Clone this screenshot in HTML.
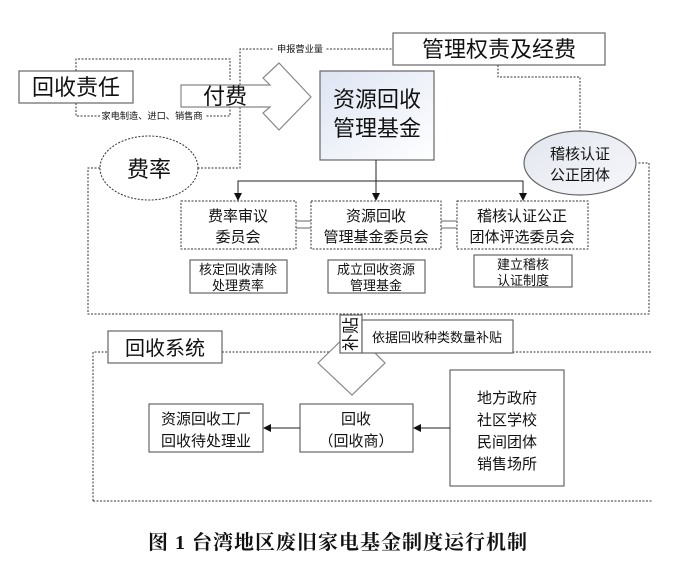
<!DOCTYPE html>
<html><head><meta charset="utf-8"><style>
html,body{margin:0;padding:0;background:#fff}
svg{display:block}
text{font-family:"Liberation Sans","Noto Sans CJK SC",sans-serif;fill:#111}
</style></head><body>
<svg width="674" height="570" viewBox="0 0 674 570" xmlns="http://www.w3.org/2000/svg">
<defs>
<linearGradient id="g1" x1="0" y1="0" x2="1" y2="1"><stop offset="0" stop-color="#dde4f3"/><stop offset="1" stop-color="#ffffff"/></linearGradient>
<linearGradient id="g2" x1="0" y1="0" x2="1" y2="1"><stop offset="0" stop-color="#e2e6ee"/><stop offset="1" stop-color="#f6f7fa"/></linearGradient>
<marker id="ar" markerWidth="8" markerHeight="8" refX="7" refY="4" orient="auto" markerUnits="userSpaceOnUse"><path d="M0,0 L8,4 L0,8 z" fill="#111"/></marker>
</defs>
<g fill="none" stroke="#333" stroke-width="1" stroke-dasharray="2,1.5">
<path d="M76,71 V59 H230 V80"/>
<path d="M76,103 V116 H230 V107"/>
<path d="M240,85 V49 H393"/>
<path d="M240,107 V168 H198"/>
<path d="M100,168 H88 V314 H649 V163 H637"/>
<path d="M498,65 V77 H580 V131"/>
<path d="M93,501 V352 H108 M222,352 H652 M93,501 H652"/>
<ellipse cx="149" cy="168" rx="49" ry="32"/>
<rect x="181" y="201" width="115" height="48"/>
<rect x="311" y="201" width="130" height="48"/>
<rect x="457" y="201" width="131" height="48"/>
</g>
<rect x="100" y="110" width="106" height="12" fill="#fff"/>
<text x="152" y="119" font-size="9.2" text-anchor="middle">家电制造、进口、销售商</text>
<rect x="274" y="43" width="52" height="12" fill="#fff"/>
<text x="300" y="52" font-size="9.2" text-anchor="middle">申报营业量</text>
<text x="149" y="177" font-size="22" text-anchor="middle">费率</text>
<g stroke="#666" stroke-width="1.2" fill="#fff">
<rect x="19" y="71" width="114" height="32"/>
<rect x="393" y="33" width="212" height="32"/>
<path d="M181,85 H270 L263,78 L279,63 L311,97 L279,130 L263,113 L270,107 H181 Z" stroke="#888"/>
<rect x="320" y="71" width="114" height="89" fill="url(#g1)"/>
<ellipse cx="580" cy="163" rx="56" ry="32" fill="url(#g2)"/>
<rect x="190" y="260" width="97" height="33"/>
<rect x="328" y="260" width="97" height="33"/>
<rect x="474" y="255" width="98" height="32"/>
<path d="M318,363 L352,330 L385,363 L352,395 Z" stroke="#888"/>
<rect x="340" y="315" width="22" height="38"/>
<rect x="362" y="320" width="151" height="33"/>
<rect x="108" y="331" width="114" height="32"/>
<rect x="149" y="404" width="114" height="48"/>
<rect x="300" y="404" width="113" height="48"/>
<rect x="450" y="370" width="114" height="116"/>
</g>
<g stroke="#666" stroke-width="1">
<path d="M296,221 H311 M296,228 H311 M441,221 H457 M441,228 H457"/>
</g>
<g stroke="#222" stroke-width="1" fill="none" marker-end="url(#ar)">
<path d="M376,160 V200"/>
<path d="M376,181 H238 V200"/>
<path d="M376,181 H523 V200"/>
<path d="M300,428 H264"/>
<path d="M450,428 H414"/>
</g>
<text x="76" y="95" font-size="22" text-anchor="middle">回收责任</text>
<text x="225" y="104" font-size="22" text-anchor="middle">付费</text>
<text x="499" y="57" font-size="22" text-anchor="middle">管理权责及经费</text>
<text x="377" y="107" font-size="22" text-anchor="middle">资源回收</text>
<text x="377" y="136" font-size="22" text-anchor="middle">管理基金</text>
<text x="580" y="159" font-size="15" text-anchor="middle">稽核认证</text>
<text x="580" y="180" font-size="15" text-anchor="middle">公正团体</text>
<text x="238" y="221" font-size="15" text-anchor="middle">费率审议</text>
<text x="238" y="242" font-size="15" text-anchor="middle">委员会</text>
<text x="376" y="221" font-size="15" text-anchor="middle">资源回收</text>
<text x="376" y="242" font-size="15" text-anchor="middle">管理基金委员会</text>
<text x="522" y="221" font-size="15" text-anchor="middle">稽核认证公正</text>
<text x="522" y="242" font-size="15" text-anchor="middle">团体评选委员会</text>
<text x="238" y="274" font-size="13" text-anchor="middle">核定回收清除</text>
<text x="238" y="290" font-size="13" text-anchor="middle">处理费率</text>
<text x="376" y="274" font-size="13" text-anchor="middle">成立回收资源</text>
<text x="376" y="290" font-size="13" text-anchor="middle">管理基金</text>
<text x="523" y="269" font-size="13" text-anchor="middle">建立稽核</text>
<text x="523" y="285" font-size="13" text-anchor="middle">认证制度</text>
<text transform="translate(351,334) rotate(-90)" font-size="17" text-anchor="middle" dominant-baseline="central">补贴</text>
<text x="437" y="342" font-size="13" text-anchor="middle">依据回收种类数量补贴</text>
<text x="165" y="355" font-size="20" text-anchor="middle">回收系统</text>
<text x="206" y="424" font-size="15" text-anchor="middle">资源回收工厂</text>
<text x="206" y="446" font-size="15" text-anchor="middle">回收待处理业</text>
<text x="356" y="424" font-size="15" text-anchor="middle">回收</text>
<text x="356" y="446" font-size="15" text-anchor="middle">（回收商）</text>
<text x="507" y="403" font-size="15" text-anchor="middle">地方政府</text>
<text x="507" y="425" font-size="15" text-anchor="middle">社区学校</text>
<text x="507" y="447" font-size="15" text-anchor="middle">民间团体</text>
<text x="507" y="469" font-size="15" text-anchor="middle">销售场所</text>
<text x="338" y="549" font-size="20" font-weight="bold" letter-spacing="1" text-anchor="middle" style="font-family:'Liberation Serif','Noto Serif CJK SC',serif">图 1  台湾地区废旧家电基金制度运行机制</text>
</svg>
</body></html>
